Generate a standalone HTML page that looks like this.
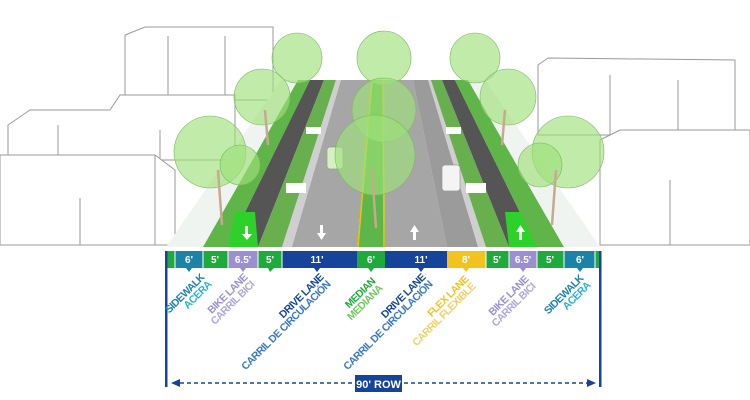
<!DOCTYPE html>
<html><head><meta charset="utf-8"><style>
html,body{margin:0;padding:0;background:#fff;}
svg{display:block}
text{font-family:"Liberation Sans",sans-serif;font-weight:bold;}
</style></head><body>
<svg width="750" height="400" viewBox="0 0 750 400" xmlns="http://www.w3.org/2000/svg">
<rect width="750" height="400" fill="#fff"/>
<g fill="#fff" stroke="#9a9a9a" stroke-width="1">
<polygon points="125,35 145,27 273,27 273,100 125,100"/>
<line x1="168" y1="36" x2="168" y2="100"/><line x1="225" y1="36" x2="225" y2="100"/>
<polygon points="8,125 30,110 110,110 120,95 235,95 235,160 8,160"/>
<line x1="58" y1="125" x2="58" y2="160"/><line x1="160" y1="130" x2="160" y2="160"/>
<polygon points="0,155 155,155 175,170 175,245 0,245"/>
<line x1="80" y1="198" x2="80" y2="245"/><line x1="155" y1="155" x2="155" y2="245"/>
<polygon points="538,65 548,58 735,60 735,135 538,135"/>
<line x1="610" y1="75" x2="610" y2="135"/><line x1="678" y1="80" x2="678" y2="135"/>
<polygon points="600,140 620,130 750,130 750,245 600,245"/>
<line x1="670" y1="180" x2="670" y2="245"/>
</g>
<g>
<polygon points="166,247 203,247 298,80 281,80" fill="#f0f4f0"/>
<polygon points="203,247 228,247 310,80 298,80" fill="#5fb548"/>
<polygon points="228,247 258,247 324,80 310,80" fill="#555"/>
<polygon points="228,247 258,247 255,212 235,212" fill="#2ed12a"/>
<polygon points="258,247 282,247 336,80 324,80" fill="#68b04e"/>
<polygon points="282,247 357,247 371,80 336,80" fill="#a6a6a6"/>
<polygon points="282,247 292,247 341,80 336,80" fill="#cfcfcf"/>
<polygon points="357,247 385,247 384,80 371,80" fill="#5cb64a"/>
<polygon points="385,247 447,247 413,80 384,80" fill="#a6a6a6"/>
<polygon points="447,247 486,247 431,80 413,80" fill="#9b9b9b"/>
<polygon points="478,247 486,247 431,80 428,80" fill="#cfcfcf"/>
<polygon points="486,247 509,247 442,80 431,80" fill="#68b04e"/>
<polygon points="509,247 537,247 455,80 442,80" fill="#555"/>
<polygon points="509,247 537,247 528,212 505,212" fill="#2ed12a"/>
<polygon points="537,247 564,247 468,80 455,80" fill="#5fb548"/>
<polygon points="564,247 600,247 485,80 468,80" fill="#f0f4f0"/>
<line x1="358" y1="247" x2="372" y2="80" stroke="#f2c200" stroke-width="1.5"/>
<line x1="384" y1="247" x2="383" y2="80" stroke="#f2c200" stroke-width="1.5"/>
<g fill="#fff"><rect x="286" y="183" width="20" height="10"/><rect x="306" y="127" width="15" height="7"/><rect x="466" y="183" width="20" height="10"/><rect x="446" y="127" width="15" height="7"/></g>
<g fill="#fff"><polygon points="320,225 323,225 323,233 326,233 321.5,240 317,233 320,233"/><polygon points="413,240 416,240 416,232 419,232 414.5,225 410,232 413,232"/>
<polygon points="246,232 249,232 249,224 252,224 247,218 242,224 246,224" transform="rotate(180 247 229)"/><polygon points="519,240 522,240 522,232 525,232 520.5,225 516,232 519,232"/></g>
<rect x="442" y="165" width="18" height="26" rx="3" fill="#f4f4f4" stroke="#999" stroke-width="0.7"/>
<rect x="327" y="147" width="16" height="22" rx="3" fill="#d7f0c0" stroke="#999" stroke-width="0.7"/>
</g>
<g fill="#9ee07a" fill-opacity="0.65" stroke="#7ab860" stroke-width="0.6">
<circle cx="297" cy="58" r="25"/><circle cx="384" cy="58" r="27"/><circle cx="475" cy="58" r="25"/>
<circle cx="262" cy="97" r="28"/><circle cx="508" cy="97" r="28"/>
<circle cx="384" cy="110" r="32"/><circle cx="375" cy="155" r="40"/>
<circle cx="210" cy="152" r="36"/><circle cx="568" cy="152" r="36"/>
<circle cx="240" cy="165" r="20"/><circle cx="540" cy="165" r="22"/>
</g>
<g stroke="#c8a890" stroke-width="2.5" fill="none">
<line x1="222" y1="225" x2="218" y2="170"/><line x1="376" y1="228" x2="372" y2="170"/><line x1="552" y1="225" x2="556" y2="170"/>
<line x1="268" y1="145" x2="265" y2="110"/><line x1="502" y1="145" x2="505" y2="110"/>
</g>
<g>
<rect x="166" y="251" width="434" height="17" fill="#1faa3c"/>
<rect x="175" y="251" width="28" height="17" fill="#1b83a8"/>
<rect x="228" y="251" width="30" height="17" fill="#9b8fd2"/>
<rect x="282" y="251" width="75" height="17" fill="#16449a"/>
<rect x="385" y="251" width="62" height="17" fill="#16449a"/>
<rect x="447" y="251" width="39" height="17" fill="#f2c31c"/>
<rect x="509" y="251" width="28" height="17" fill="#9b8fd2"/>
<rect x="564" y="251" width="31" height="17" fill="#1b83a8"/>
<g stroke="#fff" stroke-width="1"><line x1="175" y1="251" x2="175" y2="268"/><line x1="203" y1="251" x2="203" y2="268"/><line x1="228" y1="251" x2="228" y2="268"/><line x1="258" y1="251" x2="258" y2="268"/><line x1="282" y1="251" x2="282" y2="268"/><line x1="486" y1="251" x2="486" y2="268"/><line x1="509" y1="251" x2="509" y2="268"/><line x1="537" y1="251" x2="537" y2="268"/><line x1="564" y1="251" x2="564" y2="268"/><line x1="595" y1="251" x2="595" y2="268"/></g>
<g fill="#fff" font-size="10" text-anchor="middle">
<text x="189" y="263">6'</text><text x="215" y="263">5'</text><text x="243" y="263">6.5'</text><text x="270" y="263">5'</text>
<text x="317" y="263">11'</text><text x="371" y="263">6'</text><text x="421" y="263">11'</text><text x="466" y="263">8'</text>
<text x="497" y="263">5'</text><text x="523" y="263">6.5'</text><text x="550" y="263">5'</text><text x="580" y="263">6'</text>
</g>
<g>
<polygon points="186,268 192,268 189,272" fill="#1b83a8"/><polygon points="240,268 246,268 243,272" fill="#9b8fd2"/>
<polygon points="268,268 274,268 270,272" fill="#1faa3c"/><polygon points="314,268 320,268 317,272" fill="#16449a"/>
<polygon points="368,268 374,268 371,272" fill="#1faa3c"/><polygon points="418,268 424,268 421,272" fill="#16449a"/>
<polygon points="463,268 469,268 466,272" fill="#f2c31c"/><polygon points="520,268 526,268 523,272" fill="#9b8fd2"/>
<polygon points="577,268 583,268 580,272" fill="#1b83a8"/>
</g>
<rect x="165" y="251" width="2.5" height="136" fill="#16449a"/>
<rect x="599" y="251" width="2.5" height="136" fill="#16449a"/>
<line x1="180" y1="383" x2="588" y2="383" stroke="#16449a" stroke-width="1.5" stroke-dasharray="4,3"/>
<polygon points="171,383 180,379 180,387" fill="#16449a"/><polygon points="596,383 587,379 587,387" fill="#16449a"/>
<rect x="355" y="375" width="47" height="17" fill="#16449a"/>
<text x="378.5" y="388" fill="#fff" font-size="11" text-anchor="middle">90' ROW</text>
</g>
<g font-size="10.5" text-anchor="end" letter-spacing="-0.6">
<text transform="translate(205,278) rotate(-45)"><tspan fill="#1b83a8">SIDEWALK</tspan><tspan x="0" dy="10" fill="#25b4c8">ACERA</tspan></text>
<text transform="translate(248,278) rotate(-45)"><tspan fill="#9b8fd2">BIKE LANE</tspan><tspan x="0" dy="10" fill="#b0a6dc">CARRIL BICI</tspan></text>
<text transform="translate(324,278) rotate(-45)"><tspan fill="#16449a">DRIVE LANE</tspan><tspan x="0" dy="10" fill="#3a78c4">CARRIL DE CIRCULACIÓN</tspan></text>
<text transform="translate(376,282) rotate(-45)"><tspan fill="#1faa3c">MEDIAN</tspan><tspan x="0" dy="10" fill="#70c860">MEDIANA</tspan></text>
<text transform="translate(426,278) rotate(-45)"><tspan fill="#16449a">DRIVE LANE</tspan><tspan x="0" dy="10" fill="#3a78c4">CARRIL DE CIRCULACIÓN</tspan></text>
<text transform="translate(469,280) rotate(-45)"><tspan fill="#f2c31c">FLEX LANE</tspan><tspan x="0" dy="10" fill="#f2d060">CARRIL FLEXIBLE</tspan></text>
<text transform="translate(529,280) rotate(-45)"><tspan fill="#9b8fd2">BIKE LANE</tspan><tspan x="0" dy="10" fill="#b0a6dc">CARRIL BICI</tspan></text>
<text transform="translate(584,279) rotate(-45)"><tspan fill="#1b83a8">SIDEWALK</tspan><tspan x="0" dy="10" fill="#25b4c8">ACERA</tspan></text>
</g>
</svg>
</body></html>
